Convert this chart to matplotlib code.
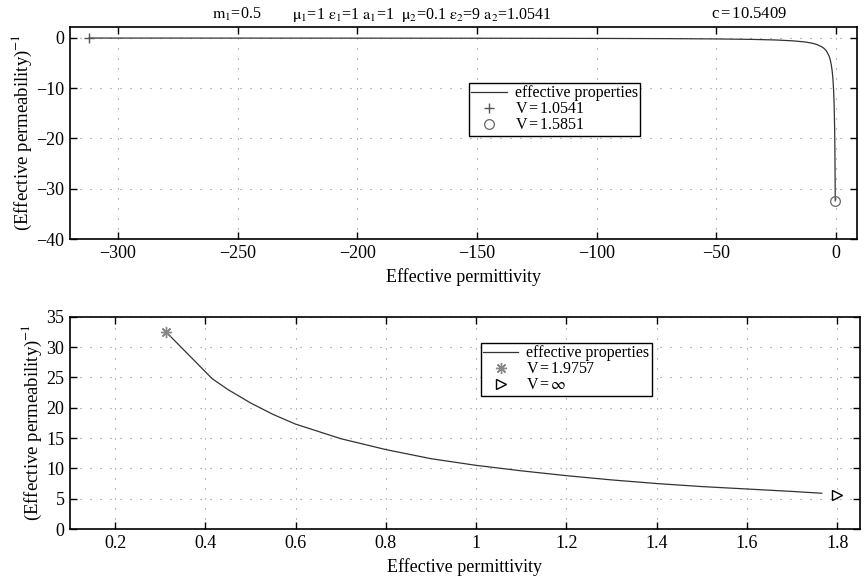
import numpy as np
import matplotlib
matplotlib.use('Agg')
import matplotlib.pyplot as plt
from matplotlib.ticker import FormatStrFormatter

plt.rcParams['font.family'] = ['Liberation Serif', 'DejaVu Serif']
plt.rcParams['mathtext.fontset'] = 'stix'
plt.rcParams['font.size'] = 13

# top panel: effective permittivity vs inverse effective permeability
eps_top = [-312, -250, -200, -150, -100, -70, -50, -35, -25, -18, -13, -10, -8, -6,
           -5, -4, -3, -2.5, -2, -1.6, -1.3, -1.0, -0.8, -0.6, -0.5, -0.42, -0.36, -0.325]
mu_top = [-0.034, -0.042, -0.053, -0.07, -0.105, -0.15, -0.21, -0.30, -0.42, -0.59,
          -0.81, -1.05, -1.32, -1.76, -2.1, -2.6, -3.5, -4.2, -5.3, -6.6, -8.1, -10.5,
          -13.2, -17.6, -21.1, -25.1, -29.3, -32.4]
pt_plus = (-312, -0.034)      # V = 1.0541
pt_circle = (-0.325, -32.4)   # V = 1.5851

# bottom panel
eps_bot = [0.313, 0.415, 0.45, 0.5, 0.55, 0.6, 0.7, 0.8, 0.9, 1.0, 1.1, 1.2, 1.3,
           1.4, 1.5, 1.6, 1.7, 1.766]
mu_bot = [32.5, 24.8, 23.0, 20.8, 18.9, 17.3, 14.9, 13.1, 11.6, 10.5, 9.6, 8.8, 8.1,
          7.5, 7.0, 6.6, 6.2, 5.9]
pt_star = (0.313, 32.5)       # V = 1.9757
pt_tri = (1.80, 5.6)          # V = inf

line_col = '#333333'
leg_kw = dict(loc='upper left', fancybox=False, edgecolor='black', framealpha=1,
              borderpad=0.15, labelspacing=0.0, handlelength=2.2, handletextpad=0.5,
              fontsize=11.5, borderaxespad=0)

fig = plt.figure(figsize=(8.64, 5.83), dpi=100)
ax1 = fig.add_axes([0.081, 0.590, 0.911, 0.364])
ax2 = fig.add_axes([0.081, 0.0926, 0.914, 0.364])

ax1.plot(eps_top, mu_top, color=line_col, lw=0.9, label='effective properties')
ax1.plot(*pt_plus, '+', color='#555555', ms=7, mew=1.0, ls='none', label='V$\\,$=$\\,$1.0541')
ax1.plot(*pt_circle, 'o', mfc='none', mec='#666666', ms=7, mew=0.9, ls='none',
         label='V$\\,$=$\\,$1.5851')
ax1.set_xlim(-320, 8.8)
ax1.set_ylim(-40, 2.2)
ax1.set_xticks(np.arange(-300, 1, 50))
ax1.set_yticks(np.arange(-40, 1, 10))
ax1.set_xlabel('Effective permittivity', labelpad=5)
ax1.set_ylabel('(Effective permeability)$^{-1}$', fontsize=13.5, labelpad=2)
ax1.legend(bbox_to_anchor=(0.507, 0.736), **leg_kw)

ax2.plot(eps_bot, mu_bot, color=line_col, lw=0.9, label='effective properties')
ax2.plot(*pt_star, marker=(8, 2, 0), color='#888888', ms=8, mew=1.0, ls='none',
         label='V$\\,$=$\\,$1.9757')
ax2.plot(*pt_tri, '>', mfc='none', mec='black', ms=7, mew=1.0, ls='none',
         label='V$\\,$=$\\,\\infty$')
ax2.set_xlim(0.1, 1.85)
ax2.set_ylim(0, 35)
ax2.set_xticks(np.arange(0.2, 1.81, 0.2))
ax2.set_yticks(np.arange(0, 36, 5))
ax2.xaxis.set_major_formatter(FormatStrFormatter('%g'))
ax2.set_xlabel('Effective permittivity', labelpad=5)
ax2.set_ylabel('(Effective permeability)$^{-1}$', fontsize=13.5, labelpad=2)
ax2.legend(bbox_to_anchor=(0.52, 0.877), **leg_kw)

for ax in (ax1, ax2):
    ax.grid(True, linestyle=(0, (1, 8)), color='#888888', lw=0.8)
    ax.tick_params(direction='in', top=True, right=True, length=5, width=1, pad=4)
    for s in ax.spines.values():
        s.set_linewidth(1.2)

fs_t = 11.5
fig.text(0.245, 0.99, '$\\mathrm{m}_1$=0.5', fontsize=fs_t, va='top')
fig.text(0.338, 0.99, '$\\mathrm{\\mu}_1$=1 $\\mathrm{\\varepsilon}_1$=1 '
         '$\\mathrm{a}_1$=1  $\\mathrm{\\mu}_2$=0.1 '
         '$\\mathrm{\\varepsilon}_2$=9 $\\mathrm{a}_2$=1.0541',
         fontsize=fs_t, va='top')
fig.text(0.823, 0.99, 'c$\\,$=$\\,$10.5409', fontsize=12, va='top')

fig.savefig('out.png', dpi=100)
